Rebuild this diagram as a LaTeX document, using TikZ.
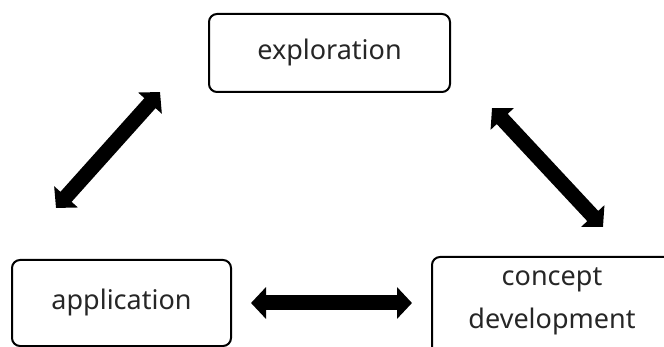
\documentclass[tikz,border=0pt]{standalone}
\usepackage{fontspec}
\setmainfont{Noto Sans}
\usetikzlibrary{arrows.meta}
\tikzset{
  box/.style={draw, line width=2pt, rounded corners=8pt, inner sep=0pt},
  lbl/.style={font=\fontsize{27}{43}\selectfont, align=center, inner sep=0pt, text=black!85},
  bigarrow/.style={line width=15pt, {Triangle[width=31pt,length=15pt]}-{Triangle[width=31pt,length=15pt]}},
}
\begin{document}
\begin{tikzpicture}[x=1pt,y=-1pt]
\useasboundingbox (0,0) rectangle (664,347);
\node[box, minimum width=241pt, minimum height=78pt] (exploration) at (329.5,53) {};
\node[lbl] (explorationtext) at (329.5,52) {exploration};
\node[box, minimum width=219pt, minimum height=86pt] (application) at (121.5,303) {};
\node[lbl] (applicationtext) at (121.5,302) {application};
\node[box, minimum width=249pt, minimum height=114pt, anchor=north west] (concept) at (431,256) {};
\node[lbl] (concepttext) at (552,301) {concept\\development};
\coordinate (l1) at (56,208);
\coordinate (l2) at (160,92);
\coordinate (r1) at (492,108);
\coordinate (r2) at (603,227);
\coordinate (h1) at (251,303);
\coordinate (h2) at (412,303);
\draw[bigarrow] (l1) -- (l2);
\draw[bigarrow] (r1) -- (r2);
\draw[bigarrow] (h1) -- (h2);
\end{tikzpicture}
\end{document}
